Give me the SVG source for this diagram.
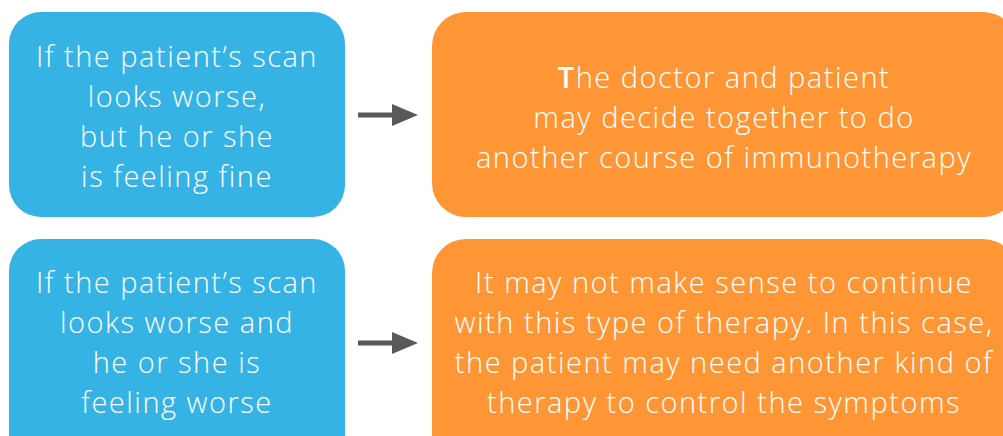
<svg xmlns="http://www.w3.org/2000/svg" width="1003" height="436" viewBox="0 0 1003 436">
<defs>
<style>
.blue{fill:#36b3e5}
.orange{fill:#fe9635}
.t{font-family:"Open Sans","Liberation Sans",sans-serif;font-size:29px;font-weight:300;letter-spacing:1.5px;fill:#ffffff;text-anchor:middle}
.conn line{stroke:#58595b;stroke-width:5}
</style>
<marker id="ah" markerWidth="26" markerHeight="22" refX="0" refY="11" orient="auto" markerUnits="userSpaceOnUse">
<path d="M0,0 L26,11 L0,22 Z" fill="#58595b"/>
</marker>
</defs>
<rect width="1003" height="436" fill="#ffffff"/>
<g id="node-cond1">
<rect class="blue" x="9" y="12" width="336" height="205" rx="32"/>
<text class="t" x="177" y="67">If the patient’s scan</text>
<text class="t" x="177" y="107">looks worse,</text>
<text class="t" x="177" y="147">but he or she</text>
<text class="t" x="177" y="187">is feeling fine</text>
</g>
<g id="node-result1">
<rect class="orange" x="432" y="12" width="585" height="205" rx="34"/>
<text class="t" x="724" y="88"><tspan font-weight="600">T</tspan>he doctor and patient</text>
<text class="t" x="724" y="128">may decide together to do</text>
<text class="t" x="724" y="168">another course of immunotherapy</text>
</g>
<g id="node-cond2">
<rect class="blue" x="9" y="239" width="336" height="230" rx="32"/>
<text class="t" x="177" y="293">If the patient’s scan</text>
<text class="t" x="177" y="333">looks worse and</text>
<text class="t" x="177" y="373">he or she is</text>
<text class="t" x="177" y="413">feeling worse</text>
</g>
<g id="node-result2">
<rect class="orange" x="432" y="239" width="585" height="230" rx="34"/>
<text class="t" x="724" y="293">It may not make sense to continue</text>
<text class="t" x="724" y="333">with this type of therapy. In this case,</text>
<text class="t" x="724" y="373">the patient may need another kind of</text>
<text class="t" x="724" y="413">therapy to control the symptoms</text>
</g>
<g class="conn" id="connectors">
<line x1="358" y1="115" x2="392" y2="115" marker-end="url(#ah)"/>
<line x1="358" y1="343" x2="392" y2="343" marker-end="url(#ah)"/>
</g>
</svg>
